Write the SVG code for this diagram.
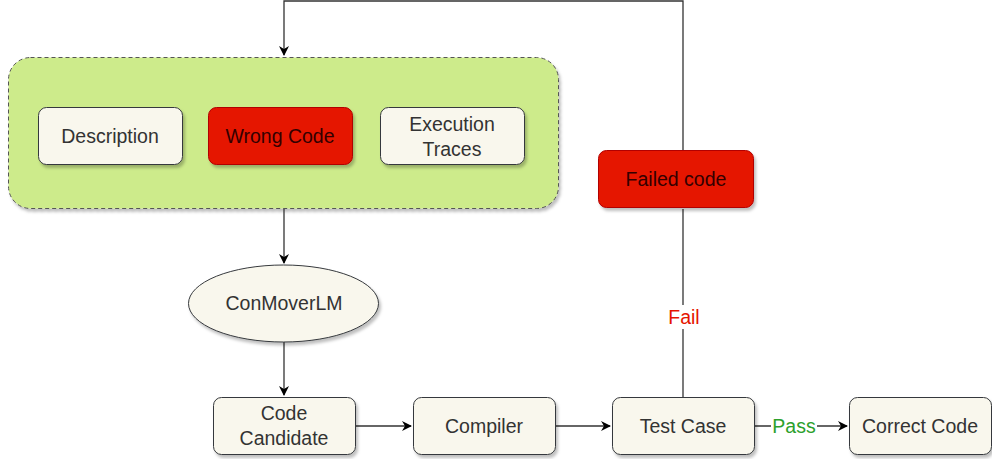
<svg xmlns="http://www.w3.org/2000/svg" width="992" height="459" viewBox="0 0 992 459">
<defs>
<filter id="sh" x="-10%" y="-10%" width="130%" height="140%"><feDropShadow dx="2" dy="3" stdDeviation="1.5" flood-color="#000" flood-opacity="0.25"/></filter>
<marker id="ar" markerWidth="10" markerHeight="10" refX="9" refY="5" orient="auto" markerUnits="userSpaceOnUse"><path d="M0,0 L10,5 L0,10 L3,5 Z" fill="#000"/></marker>
</defs>
<style>
.n{fill:#f9f7ed;stroke:#36393d;stroke-width:1;filter:url(#sh)}
.r{fill:#e51400;stroke:#b20000;stroke-width:1;filter:url(#sh)}
.t{font-family:"Liberation Sans",Arial,sans-serif;font-size:19.5px;fill:#333;text-anchor:middle}
.tr{font-family:"Liberation Sans",Arial,sans-serif;font-size:19.5px;fill:#330000;text-anchor:middle}
.c{fill:none;stroke:#333;stroke-width:1.3}
.lbl{font-family:"Liberation Sans",Arial,sans-serif;font-size:19.5px;text-anchor:middle}
</style>
<g id="container">
<rect x="8.5" y="57.5" width="550" height="151" rx="22" fill="#cdeb8b" stroke="#555" stroke-dasharray="4 3" filter="url(#sh)"/>
</g>
<g id="connectors">
<path class="c" d="M683,150 V1 H284 V55" marker-end="url(#ar)"/>
<path class="c" d="M683,397 V209"/>
<path class="c" d="M284,209 V263" marker-end="url(#ar)"/>
<path class="c" d="M284,342 V395" marker-end="url(#ar)"/>
<path class="c" d="M355,426 H411" marker-end="url(#ar)"/>
<path class="c" d="M555,426 H610" marker-end="url(#ar)"/>
<path class="c" d="M754,426 H847" marker-end="url(#ar)"/>
<rect x="667" y="305" width="34" height="24" fill="#fff"/>
<text class="lbl" x="684" y="324" fill="#e51400">Fail</text>
<rect x="771" y="414" width="46" height="24" fill="#fff"/>
<text class="lbl" x="794" y="433" fill="#2ca02c">Pass</text>
</g>
<g id="description"><rect class="n" x="38.5" y="107.5" width="144" height="57" rx="8"/><text class="t" x="110" y="143">Description</text></g>
<g id="wrong-code"><rect class="r" x="208.5" y="107.5" width="144" height="57" rx="8"/><text class="tr" x="280" y="143">Wrong Code</text></g>
<g id="execution-traces"><rect class="n" x="380.5" y="107.5" width="144" height="57" rx="8"/><text class="t" x="452" y="131">Execution</text><text class="t" x="452" y="156">Traces</text></g>
<g id="failed-code"><rect class="r" x="598.5" y="150.5" width="155" height="57" rx="8"/><text class="tr" x="676" y="186">Failed code</text></g>
<g id="conmoverlm"><ellipse class="n" cx="283.5" cy="303.5" rx="95" ry="38.5"/><text class="t" x="284" y="310">ConMoverLM</text></g>
<g id="code-candidate"><rect class="n" x="213.5" y="397.5" width="142" height="57" rx="8"/><text class="t" x="284" y="420">Code</text><text class="t" x="284" y="445">Candidate</text></g>
<g id="compiler"><rect class="n" x="413.5" y="397.5" width="142" height="57" rx="8"/><text class="t" x="484" y="433">Compiler</text></g>
<g id="test-case"><rect class="n" x="612.5" y="397.5" width="142" height="57" rx="8"/><text class="t" x="683" y="433">Test Case</text></g>
<g id="correct-code"><rect class="n" x="849.5" y="397.5" width="142" height="57" rx="8"/><text class="t" x="920" y="433">Correct Code</text></g>
</svg>
